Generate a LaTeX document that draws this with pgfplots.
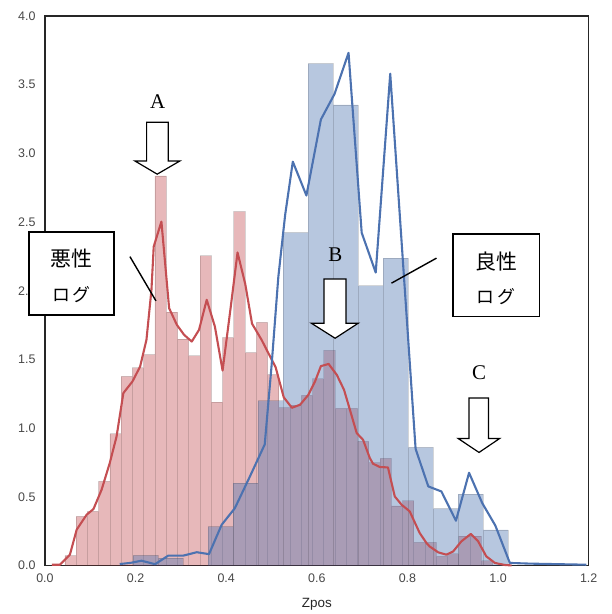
\documentclass[border=0pt]{standalone}
\usepackage{pgfplots}
\pgfplotsset{compat=1.18}
\usepackage{fontspec}
\setmainfont{Liberation Sans}
\newfontfamily\jpfont{Noto Sans CJK JP}
\newfontfamily\seriffont{Liberation Serif}
\definecolor{sbred}{RGB}{196,78,82}
\definecolor{sbblue}{RGB}{76,114,176}
\definecolor{spine}{RGB}{38,38,38}

% left bin edge, density (last row closes the interval)
\pgfplotstableread{
x       y
0.0441  0.073
0.0689  0.359
0.0938  0.395
0.1186  0.613
0.1435  0.960
0.1683  1.377
0.1931  1.440
0.2180  1.535
0.2428  2.836
0.2677  1.845
0.2925  1.649
0.3173  1.527
0.3422  2.255
0.3670  1.190
0.3919  1.660
0.4167  2.577
0.4415  1.550
0.4664  1.770
0.4912  1.390
0.5161  1.150
0.5409  1.168
0.5657  1.240
0.5906  1.360
0.6154  1.567
0.6403  1.145
0.6651  1.145
0.6899  0.905
0.7148  0.750
0.7396  0.780
0.7645  0.435
0.7893  0.472
0.8141  0.170
0.8390  0.170
0.8638  0.068
0.8887  0.086
0.9135  0.215
0.9383  0.215
0.9632  0.035
0.9880  0
}\malhist

\pgfplotstableread{
x       y
0.1948  0.075
0.2500  0.055
0.3051  0.000
0.3603  0.285
0.4154  0.600
0.4706  1.200
0.5257  2.423
0.5809  3.653
0.6360  3.353
0.6912  2.036
0.7463  2.238
0.8015  0.860
0.8566  0.415
0.9118  0.520
0.9669  0.260
1.0221  0
}\benhist

\pgfplotstableread{
x      y
0.015  0.007
0.033  0.007
0.055  0.080
0.070  0.262
0.092  0.371
0.107  0.412
0.125  0.553
0.143  0.747
0.158  0.940
0.173  1.256
0.193  1.340
0.210  1.449
0.224  1.644
0.235  2.007
0.240  2.322
0.257  2.504
0.274  1.874
0.291  1.753
0.307  1.680
0.324  1.631
0.340  1.716
0.357  1.935
0.375  1.740
0.392  1.420
0.409  1.857
0.425  2.279
0.442  2.050
0.457  1.761
0.478  1.644
0.493  1.547
0.509  1.445
0.527  1.225
0.545  1.149
0.563  1.171
0.581  1.242
0.596  1.340
0.609  1.452
0.626  1.468
0.644  1.389
0.660  1.280
0.673  1.135
0.688  0.965
0.702  0.916
0.717  0.783
0.724  0.742
0.739  0.718
0.757  0.715
0.772  0.504
0.787  0.444
0.805  0.395
0.827  0.238
0.842  0.165
0.849  0.140
0.868  0.097
0.886  0.080
0.901  0.104
0.919  0.177
0.940  0.231
0.956  0.177
0.974  0.068
0.993  0.020
1.015  0.005
1.030  0.002
}\malkde

\pgfplotstableread{
x      y
0.165  0.012
0.188  0.020
0.213  0.036
0.243  0.011
0.272  0.073
0.305  0.073
0.335  0.098
0.362  0.084
0.390  0.298
0.419  0.418
0.452  0.647
0.485  0.882
0.500  1.450
0.515  2.100
0.530  2.550
0.547  2.940
0.577  2.694
0.609  3.247
0.639  3.432
0.670  3.732
0.699  2.423
0.730  2.133
0.762  3.580
0.818  0.850
0.846  0.577
0.875  0.540
0.907  0.327
0.936  0.676
0.965  0.456
0.994  0.292
1.026  0.020
1.070  0.015
1.195  0.007
}\benkde

\begin{document}
\begin{tikzpicture}
\begin{axis}[
  scale only axis,
  width=544bp, height=550bp,
  xmin=0, xmax=1.2, ymin=0, ymax=4.0,
  xtick={0,0.2,0.4,0.6,0.8,1.0,1.2},
  ytick={0,0.5,1.0,1.5,2.0,2.5,3.0,3.5,4.0},
  major tick length=0pt,
  axis line style={spine, line width=1.4bp},
  ticklabel style={font=\fontsize{12.5}{14}\selectfont, color=spine!85!white},
  yticklabel style={xshift=-6bp},
  xticklabel style={yshift=-5bp},
  /pgf/number format/.cd, fixed, fixed zerofill, precision=1, assume math mode=true,
  /pgfplots/.cd,
  xlabel={Zpos},
  xlabel style={at={(axis description cs:0.5,0)}, anchor=center, yshift=-39bp,
    font=\fontsize{13.5}{15}\selectfont, color=spine},
  clip=false,
]
\addplot[ybar interval, fill=sbred, fill opacity=0.4, draw=black, draw opacity=0.14, line width=0.8bp]
  table[x=x, y=y] {\malhist};
\addplot[ybar interval, fill=sbblue, fill opacity=0.4, draw=black, draw opacity=0.14, line width=0.8bp]
  table[x=x, y=y] {\benhist};
\addplot[sbred, line width=2.1bp, line join=round] table[x=x, y=y] {\malkde};
\addplot[sbblue, line width=2.1bp, line join=round] table[x=x, y=y] {\benkde};

% label boxes
\draw[black, line width=1.4bp, fill=white] (axis cs:-0.0353,2.429) rectangle (axis cs:0.1522,1.825);
\node[font=\jpfont\fontsize{21}{22}\selectfont] at (axis cs:0.0585,2.235) {悪性};
\node[font=\jpfont\fontsize{18}{20}\selectfont] at (axis cs:0.0585,1.975) {ロ\hspace{3bp}グ};
\draw[black, line width=1.4bp] (axis cs:0.1875,2.249) -- (axis cs:0.2449,1.927);

\draw[black, line width=1.4bp, fill=white] (axis cs:0.9007,2.415) rectangle (axis cs:1.092,1.813);
\node[font=\jpfont\fontsize{21}{22}\selectfont] at (axis cs:0.996,2.21) {良性};
\node[font=\jpfont\fontsize{18}{20}\selectfont] at (axis cs:0.996,1.96) {ロ\hspace{3bp}グ};
\draw[black, line width=1.4bp] (axis cs:0.8641,2.238) -- (axis cs:0.7648,2.056);

% block arrows
\draw[black, line width=1.2bp, fill=white, line join=miter]
  (axis cs:0.2244,3.227) -- (axis cs:0.2720,3.227) -- (axis cs:0.2720,2.945) -- (axis cs:0.2978,2.945)
  -- (axis cs:0.2477,2.849) -- (axis cs:0.1985,2.945) -- (axis cs:0.2244,2.945) -- cycle;
\node[font=\seriffont\fontsize{21}{22}\selectfont] at (axis cs:0.249,3.375) {A};

\draw[black, line width=1.2bp, fill=white, line join=miter]
  (axis cs:0.6159,2.086) -- (axis cs:0.6642,2.086) -- (axis cs:0.6642,1.764) -- (axis cs:0.6912,1.764)
  -- (axis cs:0.6404,1.655) -- (axis cs:0.5881,1.764) -- (axis cs:0.6159,1.764) -- cycle;
\node[font=\seriffont\fontsize{21}{22}\selectfont] at (axis cs:0.6409,2.264) {B};

\draw[black, line width=1.2bp, fill=white, line join=miter]
  (axis cs:0.936,1.22) -- (axis cs:0.9788,1.22) -- (axis cs:0.9788,0.926) -- (axis cs:1.0037,0.926)
  -- (axis cs:0.958,0.824) -- (axis cs:0.9118,0.926) -- (axis cs:0.936,0.926) -- cycle;
\node[font=\seriffont\fontsize{21}{22}\selectfont] at (axis cs:0.958,1.406) {C};
\end{axis}
\path (current axis.south west) ++(-45bp,-48bp) rectangle ([shift={(23bp,16bp)}]current axis.north east);
\end{tikzpicture}
\end{document}
